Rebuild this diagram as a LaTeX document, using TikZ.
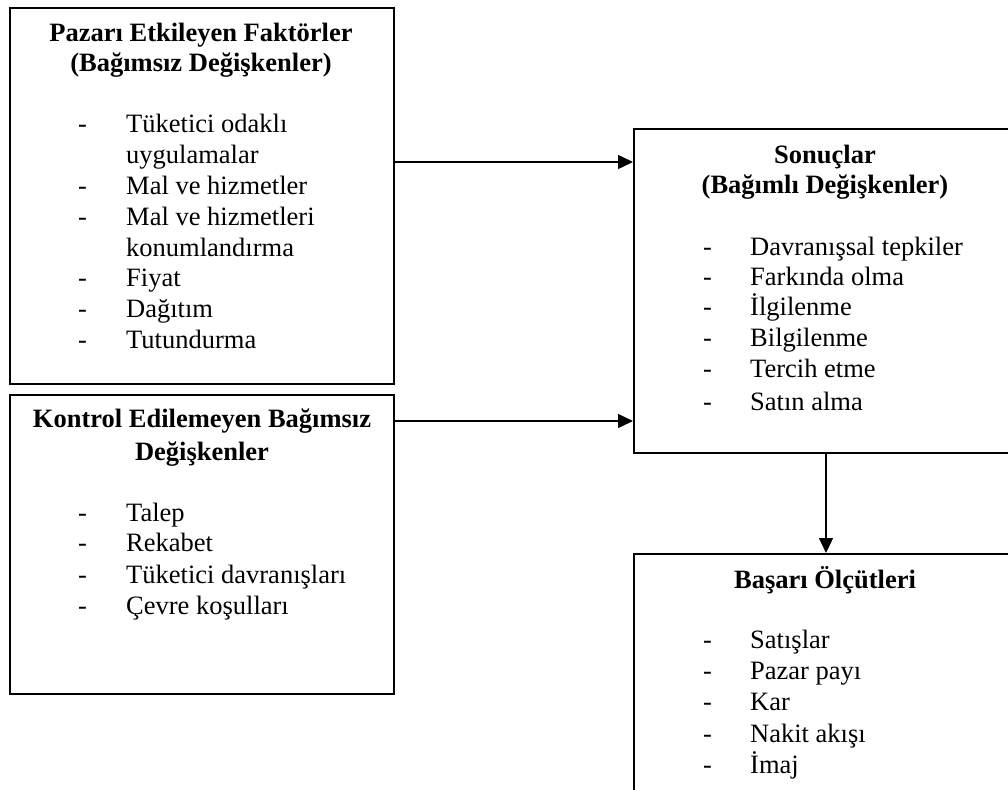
\documentclass[tikz,border=0pt]{standalone}
\usepackage{fontspec}
\setmainfont{Liberation Serif}
\usetikzlibrary{arrows.meta}

\tikzset{
  box/.style={draw=black, line width=2pt, rectangle, inner sep=0pt, anchor=north west},
  arr/.style={draw=black, line width=1.4pt, -{Triangle[length=15pt, width=14pt]}},
  title/.style={anchor=base, inner sep=0pt, font=\fontsize{26.5pt}{31pt}\selectfont\bfseries},
  item/.style={anchor=base west, inner sep=0pt, font=\fontsize{26.5pt}{31pt}\selectfont},
}

\begin{document}
\begin{tikzpicture}[x=1pt, y=-1pt]
  \useasboundingbox (0,0) rectangle (1008,789);
  \clip (0,0) rectangle (1008,789);

  % frames
  \node[box, minimum width=384pt, minimum height=376pt] (A) at (9,7) {};
  \node[box, minimum width=384pt, minimum height=299pt] (B) at (9,394) {};
  \node[box, minimum width=397pt, minimum height=324pt] (C) at (633,128) {};
  \node[box, minimum width=397pt, minimum height=267pt] (D) at (633,553) {};

  % market factors
  \node[title] (a1) at (201,42) {Pazarı Etkileyen Faktörler};
  \node[title] (a2) at (201,72) {(Bağımsız Değişkenler)};
  \foreach \y/\t/\d [count=\i] in {
      132/Tüketici odaklı/1, 163/uygulamalar/0, 194/Mal ve hizmetler/1,
      225/Mal ve hizmetleri/1, 256/konumlandırma/0, 286/Fiyat/1,
      317/Dağıtım/1, 348/Tutundurma/1} {
    \node[item] (ai\i) at (126,\y) {\t};
    \ifnum\d=1 \node[item] (ad\i) at (78,\y) {-}; \fi
  }

  % uncontrolled variables
  \node[title] (b1) at (202,427) {Kontrol Edilemeyen Bağımsız};
  \node[title] (b2) at (202,460) {Değişkenler};
  \foreach \y/\t [count=\i] in {
      521/Talep, 551/Rekabet, 583/Tüketici davranışları, 614/Çevre koşulları} {
    \node[item] (bi\i) at (126,\y) {\t};
    \node[item] (bd\i) at (78,\y) {-};
  }

  % outcomes
  \node[title] (c1) at (825,163) {Sonuçlar};
  \node[title] (c2) at (825,193) {(Bağımlı Değişkenler)};
  \foreach \y/\t [count=\i] in {
      255/Davranışsal tepkiler, 285/Farkında olma, 315/İlgilenme,
      346/Bilgilenme, 377/Tercih etme, 410/Satın alma} {
    \node[item] (ci\i) at (750,\y) {\t};
    \node[item] (cd\i) at (703,\y) {-};
  }

  % success criteria
  \node[title] (d1) at (825,588) {Başarı Ölçütleri};
  \foreach \y/\t [count=\i] in {
      648/Satışlar, 679/Pazar payı, 710/Kar, 742/Nakit akışı, 773/İmaj} {
    \node[item] (di\i) at (750,\y) {\t};
    \node[item] (dd\i) at (703,\y) {-};
  }

  % connectors
  \coordinate (r1) at (0,162);
  \coordinate (r2) at (0,421);
  \coordinate (r3) at (826,0);
  \draw[arr] (A.east |- r1) -- (C.west |- r1);
  \draw[arr] (B.east |- r2) -- (C.west |- r2);
  \draw[arr] (r3 |- C.south) -- (r3 |- D.north);
\end{tikzpicture}
\end{document}
